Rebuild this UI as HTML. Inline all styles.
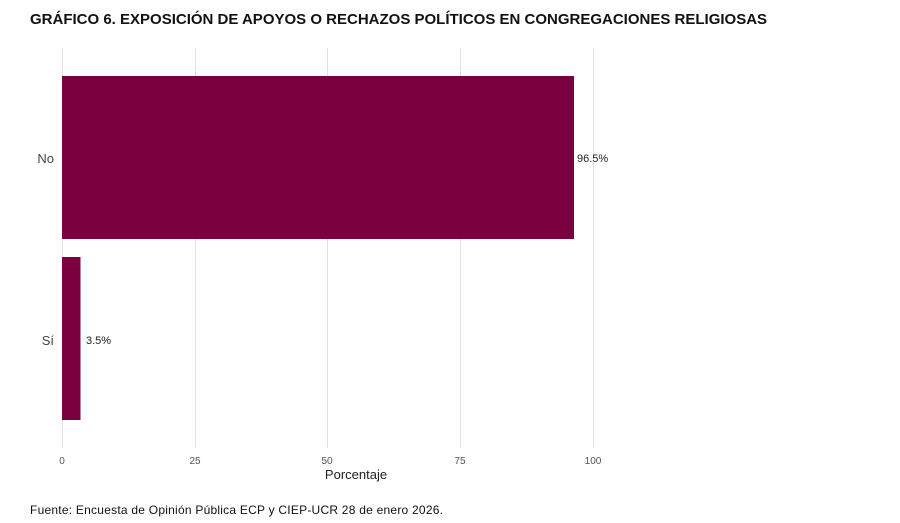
<!DOCTYPE html>
<html><head><meta charset="utf-8"><style>
body{margin:0;background:#fff;width:900px;height:523px;overflow:hidden}
svg{display:block}
</style></head><body>
<svg width="900" height="523" xmlns="http://www.w3.org/2000/svg" font-family="Liberation Sans, Arial, sans-serif">
<rect width="900" height="523" fill="#fff"/>
<text x="30" y="24" font-size="15" font-weight="bold" fill="#111">GRÁFICO 6. EXPOSICIÓN DE APOYOS O RECHAZOS POLÍTICOS EN CONGREGACIONES RELIGIOSAS</text>
<g stroke="#e3e3e3" stroke-width="1">
<line x1="62.5" y1="48" x2="62.5" y2="448"/>
<line x1="195.5" y1="48" x2="195.5" y2="448"/>
<line x1="327.5" y1="48" x2="327.5" y2="448"/>
<line x1="460.5" y1="48" x2="460.5" y2="448"/>
<line x1="593.5" y1="48" x2="593.5" y2="448"/>
</g>
<rect x="62" y="76" width="512" height="163" fill="#7a003f"/>
<rect x="62" y="257" width="18.5" height="163" fill="#7a003f"/>
<text x="577" y="162" font-size="11" fill="#222">96.5%</text>
<text x="86" y="344" font-size="11" fill="#222">3.5%</text>
<text x="54" y="163" font-size="13" fill="#444" text-anchor="end">No</text>
<text x="54" y="345" font-size="13" fill="#444" text-anchor="end">Sí</text>
<g font-size="10" fill="#555" text-anchor="middle">
<text x="62" y="464">0</text>
<text x="195" y="464">25</text>
<text x="327" y="464">50</text>
<text x="460" y="464">75</text>
<text x="593" y="464">100</text>
</g>
<text x="356" y="479" font-size="13" fill="#222" text-anchor="middle">Porcentaje</text>
<text x="30" y="514" font-size="12" fill="#111" textLength="413" lengthAdjust="spacing">Fuente: Encuesta de Opinión Pública ECP y CIEP-UCR 28 de enero 2026.</text>
</svg>
</body></html>
